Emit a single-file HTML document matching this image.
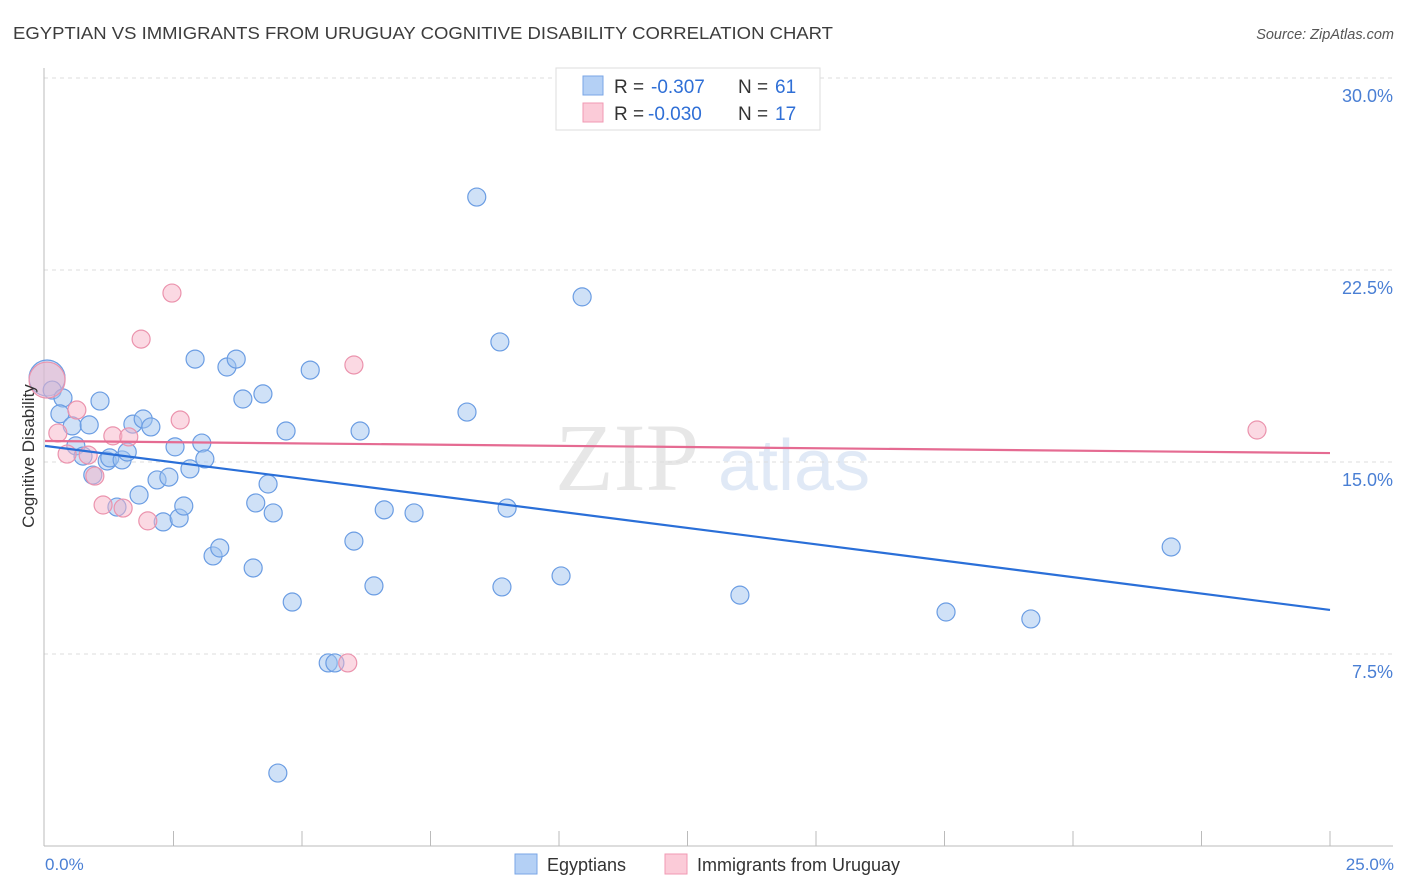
<!DOCTYPE html>
<html><head><meta charset="utf-8"><style>
body{margin:0;background:#fff;font-family:"Liberation Sans",sans-serif;}
svg{display:block}
</style></head><body>
<svg id="c" width="1406" height="892" xmlns="http://www.w3.org/2000/svg">
<text x="13" y="39" font-size="17.5" fill="#3c3c3c" textLength="820" lengthAdjust="spacingAndGlyphs">EGYPTIAN VS IMMIGRANTS FROM URUGUAY COGNITIVE DISABILITY CORRELATION CHART</text>
<text x="1394" y="39" font-size="14.5" fill="#555" font-style="italic" text-anchor="end">Source: ZipAtlas.com</text>
<g opacity="0.35">
<text x="555" y="490" font-size="96" font-family="Liberation Serif,serif" fill="#bbb">ZIP</text>
<text x="718" y="490" font-size="72" fill="#a9c3e8">atlas</text>
</g>
<g id="grid"></g>
<g id="axes"></g>
<g id="pts"></g>
<g id="lines"></g>
<text transform="translate(34,456) rotate(-90)" font-size="17" fill="#333" text-anchor="middle">Cognitive Disability</text>
<text x="45" y="870" font-size="17" fill="#4a7fd4">0.0%</text>
<text x="1394" y="870" font-size="17" fill="#4a7fd4" text-anchor="end">25.0%</text>
<g>
<rect x="556" y="68" width="264" height="62" fill="#fff" stroke="#ddd"/>
<rect x="583" y="76" width="20" height="19" fill="#b4d0f5" stroke="#7aa6e6"/>
<rect x="583" y="103" width="20" height="19" fill="#fbcbd8" stroke="#f09ab3"/>
<text x="614" y="93" font-size="19" fill="#333">R =</text>
<text x="651" y="93" font-size="19" fill="#2f6fd6">-0.307</text>
<text x="738" y="93" font-size="19" fill="#333">N =</text>
<text x="775" y="93" font-size="19" fill="#2f6fd6">61</text>
<text x="614" y="120" font-size="19" fill="#333">R =</text>
<text x="648" y="120" font-size="19" fill="#2f6fd6">-0.030</text>
<text x="738" y="120" font-size="19" fill="#333">N =</text>
<text x="775" y="120" font-size="19" fill="#2f6fd6">17</text>
</g>
<g>
<rect x="515" y="854" width="22" height="20" fill="#b4d0f5" stroke="#7aa6e6"/>
<text x="547" y="871" font-size="18" fill="#333">Egyptians</text>
<rect x="665" y="854" width="22" height="20" fill="#fbcbd8" stroke="#f09ab3"/>
<text x="697" y="871" font-size="18" fill="#333">Immigrants from Uruguay</text>
</g>
</svg>
<script>
const yTicks=[7.5,15,22.5,30];
const yTickLabels=["7.5%","15.0%","22.5%","30.0%"];
const blueX=[0.04,0.14,0.35,0.29,0.53,0.86,1.07,0.60,0.74,1.21,1.26,1.50,1.60,0.93,1.40,1.83,1.71,1.91,2.06,2.53,2.82,3.05,3.11,2.18,2.41,2.30,2.61,2.70,2.92,3.54,3.72,3.85,4.24,4.10,4.34,4.44,3.27,3.40,4.05,4.69,5.16,4.81,5.51,5.64,4.53,6.13,6.01,6.40,6.60,7.18,8.21,8.40,8.85,8.99,8.89,10.04,10.45,13.52,17.53,19.18,21.91];
const blueY=[18.28,17.81,17.50,16.88,16.41,16.45,17.38,15.63,15.23,15.04,15.16,15.08,15.39,14.49,13.24,13.71,16.48,16.68,16.37,15.59,14.73,15.74,15.12,14.30,14.41,12.66,12.81,13.28,19.02,18.71,19.02,17.46,17.66,13.40,14.14,13.01,11.33,11.64,10.86,16.21,18.59,9.53,7.15,7.15,2.85,16.21,11.91,10.16,13.13,13.01,16.95,25.35,19.69,13.20,10.12,10.55,21.45,9.80,9.14,8.87,11.68];
const pinkX=[0.04,0.25,0.43,0.62,0.97,1.13,1.32,1.52,1.63,1.87,2.00,2.47,2.63,5.89,6.01,23.58,0.84];
const pinkY=[18.20,16.13,15.31,17.03,14.45,13.32,16.02,13.20,15.98,19.80,12.70,21.60,16.64,7.15,18.79,16.25,15.27];
const blueTrend=[15.63,9.22];
const pinkTrend=[15.82,15.35];
const xMax=25;
const NS="http://www.w3.org/2000/svg";
const X=v=>45+v/xMax*1285;
const Y=v=>846-v/7.5*192;
function mk(t,a,p){const e=document.createElementNS(NS,t);for(const k in a)e.setAttribute(k,a[k]);p.appendChild(e);return e;}
const grid=document.getElementById('grid'),axes=document.getElementById('axes'),pts=document.getElementById('pts'),lines=document.getElementById('lines');
yTicks.forEach((t,i)=>{
 const l=mk('line',{x1:44,x2:1393,y1:Y(t),y2:Y(t),stroke:'#ddd','stroke-dasharray':'4,4'},grid);
 
 
 const tx=mk('text',{x:1393,y:Y(t)+24,'font-size':18,fill:'#4a7fd4','text-anchor':'end'},grid);
 tx.textContent=yTickLabels[i];
 
 
});
const ax=mk('line',{x1:44,x2:44,y1:68,y2:846,stroke:'#bbb'},axes);


const bx=mk('line',{x1:44,x2:1393,y1:846,y2:846,stroke:'#bbb'},axes);


for(let i=1;i<=10;i++){
 const tk=mk('line',{x1:X(i*2.5),x2:X(i*2.5),y1:831,y2:846,stroke:'#bbb'},axes);
 
 
}
function dots(xs,ys,fill,stroke,name){
 xs.forEach((x,i)=>{
  const c=mk('circle',{cx:X(x),cy:Y(ys[i]),r:i===0?18:9,fill:fill,stroke:stroke,'stroke-width':1.2},pts);
  
  
 });
}
dots(blueX,blueY,'rgba(160,196,240,0.5)','#6b9de3','egyptians-point');
dots(pinkX,pinkY,'rgba(248,180,200,0.5)','#eb93ad','uruguay-point');
const bl=mk('line',{x1:X(0),x2:X(xMax),y1:Y(blueTrend[0]),y2:Y(blueTrend[1]),stroke:'#2a6fd8','stroke-width':2.2},lines);


const pl=mk('line',{x1:X(0),x2:X(xMax),y1:Y(pinkTrend[0]),y2:Y(pinkTrend[1]),stroke:'#e56b92','stroke-width':2.2},lines);


</script>
</body></html>
